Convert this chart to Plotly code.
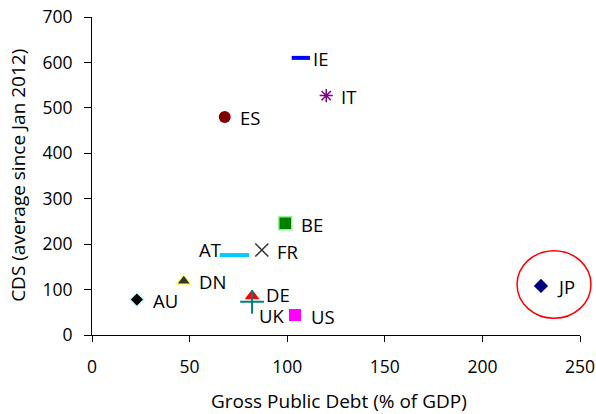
import plotly.graph_objects as go

countries = ["IE", "IT", "ES", "BE", "AT", "FR", "DN", "AU", "DE", "UK", "US", "JP"]
debt = [107, 120, 68, 99, 73, 87, 47, 23, 82, 82, 104, 230]
cds = [610, 527, 480, 246, 176, 187, 119, 78, 86, 73, 44, 108]

x_ticks = [0, 50, 100, 150, 200, 250]
y_ticks = [0, 100, 200, 300, 400, 500, 600, 700]
x_title = "Gross Public Debt (% of GDP)"
y_title = "CDS (average since Jan 2012)"

styles = {
    "IE": dict(symbol="line-ew-open", size=13, color="#0000FF", lw=4),
    "IT": dict(symbol="asterisk-open", size=11, color="#800080", lw=1.5),
    "ES": dict(symbol="circle", size=12, color="#800000", lw=0, lc="#800000"),
    "BE": dict(symbol="square", size=13, color="#008000", lw=1.5, lc="#99EE99"),
    "AT": dict(symbol="line-ew-open", size=21, color="#00CCFF", lw=4),
    "FR": dict(symbol="x-thin-open", size=13, color="#333333", lw=1.5),
    "DN": dict(symbol="triangle-up", size=13, color="#333333", lw=1.5, lc="#FFFF88"),
    "AU": dict(symbol="diamond", size=11, color="#000000", lw=1.5, lc="#CCFFFF"),
    "DE": dict(symbol="triangle-up", size=13, color="#FF0000", lw=0, lc="#FF0000"),
    "UK": dict(symbol="cross-thin-open", size=17, color="#008080", lw=2),
    "US": dict(symbol="square", size=12, color="#FF00FF", lw=0, lc="#FF00FF"),
    "JP": dict(symbol="diamond", size=11, color="#000080", lw=0, lc="#000080"),
}

# label offsets in pixels (xshift, yshift, anchor)
label_pos = {
    "IE": (11, -1, "left"), "IT": (14, -1, "left"), "ES": (14, -1, "left"),
    "BE": (15, -1, "left"), "AT": (-13, 6, "right"), "FR": (14, -1, "left"),
    "DN": (14, -1, "left"), "AU": (15, -1, "left"), "DE": (13, 1, "left"),
    "UK": (6, -14, "left"), "US": (15, -1, "left"), "JP": (15, -1, "left"),
}

FONT = "Open Sans"
label_font = dict(family=FONT, size=18.5, color="#000000")
tick_font = dict(family=FONT, size=17.5, color="#000000")
title_font = dict(family=FONT, size=19, color="#000000")

fig = go.Figure()
for c, xv, yv in zip(countries, debt, cds):
    s = styles[c]
    fig.add_trace(go.Scatter(
        x=[xv], y=[yv], mode="markers", name=c, showlegend=False,
        marker=dict(symbol=s["symbol"], size=s["size"], color=s["color"],
                    line=dict(width=s["lw"], color=s.get("lc", s["color"]))),
        cliponaxis=False, hoverinfo="skip",
    ))
    xs, ys, anc = label_pos[c]
    fig.add_annotation(x=xv, y=yv, text=c, showarrow=False, xanchor=anc,
                       yanchor="middle", xshift=xs, yshift=ys, font=label_font,
                       borderpad=0)

# axis titles
fig.add_annotation(xref="paper", yref="paper", x=0.506, y=-0.208, text=x_title,
                   showarrow=False, xanchor="center", yanchor="middle",
                   font=title_font, borderpad=0)
fig.add_annotation(xref="paper", yref="paper", x=-0.152, y=0.503, text=y_title,
                   showarrow=False, xanchor="center", yanchor="middle",
                   textangle=-90, font=title_font, borderpad=0)

# red circle highlighting JP (paper coordinates so it is not clipped)
fig.add_shape(type="circle", xref="paper", yref="paper",
              x0=0.871, x1=1.0225, y0=0.0525, y1=0.265,
              line=dict(color="#FF0000", width=1.5))

fig.update_layout(
    width=596, height=414,
    margin=dict(l=92, r=16, t=17, b=79),
    paper_bgcolor="white", plot_bgcolor="white",
    font=dict(family=FONT, size=17, color="#000000"),
)
fig.update_xaxes(
    range=[0, 250], tickvals=x_ticks, ticktext=[str(v) for v in x_ticks],
    showgrid=False, zeroline=False, showline=True, linecolor="black", linewidth=1,
    ticks="outside", ticklen=6, tickcolor="black", ticklabelstandoff=10,
    tickfont=tick_font, automargin=False, ticklabeloverflow="allow",
)
fig.update_yaxes(
    range=[0, 700], tickvals=y_ticks, ticktext=[str(v) for v in y_ticks],
    showgrid=False, zeroline=False, showline=True, linecolor="black", linewidth=1,
    ticks="outside", ticklen=7, tickcolor="black", ticklabelstandoff=8,
    tickfont=tick_font, automargin=False, ticklabeloverflow="allow",
)

# remove the default 8px page margin so the figure fills the window exactly
fig.write_html("out.html", config={"displayModeBar": False},
               post_script="document.body.style.margin='0';")
